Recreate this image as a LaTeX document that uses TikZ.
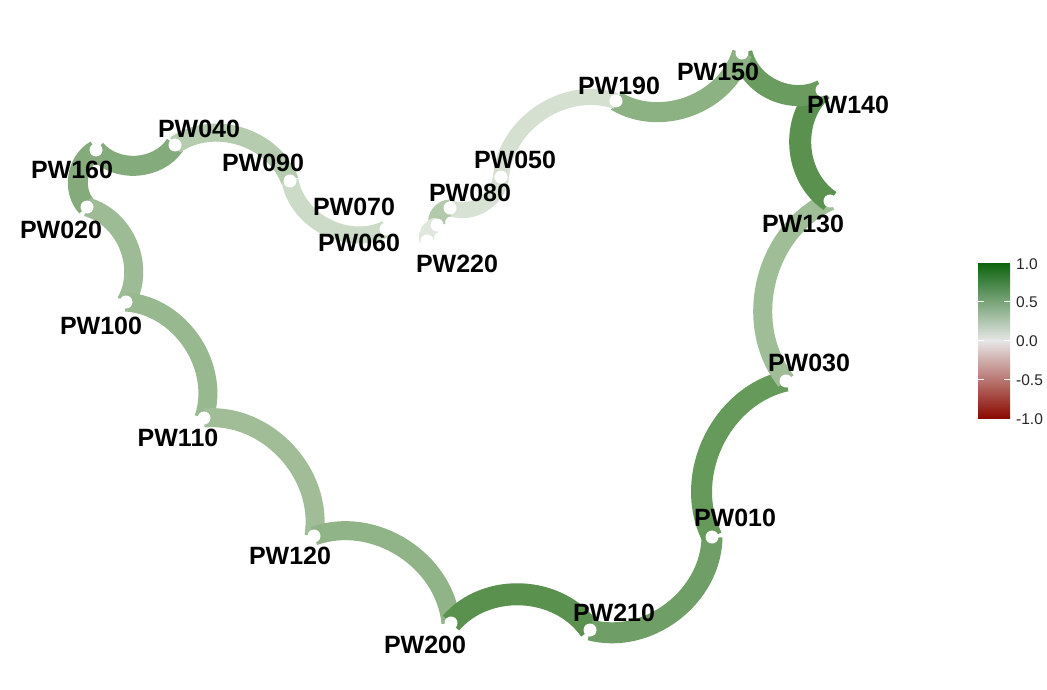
\documentclass[tikz,border=0pt]{standalone}
\usepackage{fontspec}
\setmainfont{Liberation Sans}
\pgfdeclarelayer{bg}
\pgfdeclarelayer{edges}
\pgfsetlayers{bg,edges,main}
\definecolor{e01}{HTML}{84AB7C}
\definecolor{e02}{HTML}{B5CCAE}
\definecolor{e03}{HTML}{CCDBC7}
\definecolor{e04}{HTML}{85AB7D}
\definecolor{e05}{HTML}{9DBB95}
\definecolor{e06}{HTML}{98B890}
\definecolor{e07}{HTML}{A0BD98}
\definecolor{e08}{HTML}{91B388}
\definecolor{e09}{HTML}{5A914F}
\definecolor{e10}{HTML}{6F9F66}
\definecolor{e11}{HTML}{659A5B}
\definecolor{e12}{HTML}{9FBD97}
\definecolor{e13}{HTML}{5A914F}
\definecolor{e14}{HTML}{6A9C60}
\definecolor{e15}{HTML}{8CB284}
\definecolor{e16}{HTML}{D5E0D1}
\definecolor{e17}{HTML}{D8E2D4}
\definecolor{e18}{HTML}{B3C9AC}
\definecolor{e19}{HTML}{E0E7DD}
\definecolor{legtop}{HTML}{0D630D}
\definecolor{leghi}{HTML}{8DB088}
\definecolor{legmid}{HTML}{E6E6E6}
\definecolor{leglo}{HTML}{C78E85}
\definecolor{legbot}{HTML}{8B0A00}
\begin{document}
\begin{tikzpicture}[x=1pt,y=-1pt,
  dot/.style={circle, fill=white, inner sep=0pt, minimum size=13pt},
  lab/.style={font=\fontsize{25}{29}\selectfont\bfseries, inner sep=0pt, text=black},
  legtxt/.style={font=\fontsize{15.5}{18}\selectfont, inner sep=0pt, anchor=west, text=black!85},
  edge/.style 2 args={draw=#1, line width=#2pt, line cap=butt},
  bl/.style={bend left=52}, br/.style={bend right=52},
  tickm/.style={draw=white, line width=1pt}]
\begin{pgfonlayer}{bg}
\fill[white] (0,0) rectangle (1047,690);
\end{pgfonlayer}
\useasboundingbox (0,0) rectangle (1047,690);
% nodes (white points)
\node[dot] (n160) at (96,150) {};
\node[dot] (n040) at (175,145) {};
\node[dot] (n090) at (290,181) {};
\node[dot] (n070) at (386,229) {};
\node[dot] (n020) at (87,207) {};
\node[dot] (n100) at (126,302) {};
\node[dot] (n110) at (204,418) {};
\node[dot] (n120) at (314,536) {};
\node[dot] (n200) at (451,623) {};
\node[dot] (n210) at (590,630) {};
\node[dot] (n010) at (712,537) {};
\node[dot] (n030) at (786,381) {};
\node[dot] (n130) at (830,201) {};
\node[dot] (n140) at (822,90) {};
\node[dot] (n150) at (742,53) {};
\node[dot] (n190) at (616,101) {};
\node[dot] (n050) at (501,177) {};
\node[dot] (n080) at (450,208) {};
\node[dot] (n060) at (437,225) {};
\node[dot] (n220) at (427,241) {};
% edges
\begin{pgfonlayer}{edges}
\draw[edge={e01}{20}] (n160.center) to[br] (n040.center);
\draw[edge={e02}{18}] (n040.center) to[bl] (n090.center);
\draw[edge={e03}{17}] (n090.center) to[br] (n070.center);
\draw[edge={e04}{20}] (n160.center) to[br] (n020.center);
\draw[edge={e05}{19}] (n020.center) to[bl] (n100.center);
\draw[edge={e06}{19}] (n100.center) to[bl] (n110.center);
\draw[edge={e07}{19}] (n110.center) to[bl] (n120.center);
\draw[edge={e08}{19}] (n120.center) to[bl] (n200.center);
\draw[edge={e09}{22}] (n200.center) to[bl] (n210.center);
\draw[edge={e10}{21}] (n210.center) to[br] (n010.center);
\draw[edge={e11}{21}] (n010.center) to[bl] (n030.center);
\draw[edge={e12}{19}] (n030.center) to[bl] (n130.center);
\draw[edge={e13}{22}] (n130.center) to[bl] (n140.center);
\draw[edge={e14}{21}] (n140.center) to[bl] (n150.center);
\draw[edge={e15}{20}] (n150.center) to[bl] (n190.center);
\draw[edge={e16}{16}] (n190.center) to[br] (n050.center);
\draw[edge={e17}{16}] (n050.center) to[bl] (n080.center);
\draw[edge={e18}{17}] (n080.center) to[br] (n060.center);
\draw[edge={e19}{15}] (n060.center) to[br] (n220.center);
\end{pgfonlayer}
% labels
\node[lab] (l160) at (72,170) {PW160};
\node[lab] (l040) at (199,129) {PW040};
\node[lab] (l090) at (263,163) {PW090};
\node[lab] (l070) at (354,207) {PW070};
\node[lab] (l060) at (359,243) {PW060};
\node[lab] (l020) at (61,230) {PW020};
\node[lab] (l100) at (101,326) {PW100};
\node[lab] (l110) at (178,438) {PW110};
\node[lab] (l120) at (290,556) {PW120};
\node[lab] (l200) at (425,645) {PW200};
\node[lab] (l210) at (614,613) {PW210};
\node[lab] (l010) at (735,518) {PW010};
\node[lab] (l030) at (809,363) {PW030};
\node[lab] (l130) at (803,224) {PW130};
\node[lab] (l140) at (848,105) {PW140};
\node[lab] (l150) at (718,72) {PW150};
\node[lab] (l190) at (619,86) {PW190};
\node[lab] (l050) at (515,160) {PW050};
\node[lab] (l080) at (470,193) {PW080};
\node[lab] (l220) at (457,264) {PW220};
% legend
\shade[top color=legtop, middle color=leghi, bottom color=legmid] (978,263) rectangle (1010,340.5);
\shade[top color=legmid, middle color=leglo, bottom color=legbot] (978,340.5) rectangle (1010,418);
\foreach \yy in {301.75,340.5,379.25} {
  \draw[tickm] (978,\yy) -- (984,\yy);
  \draw[tickm] (1004,\yy) -- (1010,\yy);
}
\node[legtxt] (t1) at (1016,264) {1.0};
\node[legtxt] (t2) at (1016,302) {0.5};
\node[legtxt] (t3) at (1016,341) {0.0};
\node[legtxt] (t4) at (1016,380) {-0.5};
\node[legtxt] (t5) at (1016,419) {-1.0};
\end{tikzpicture}
\end{document}
